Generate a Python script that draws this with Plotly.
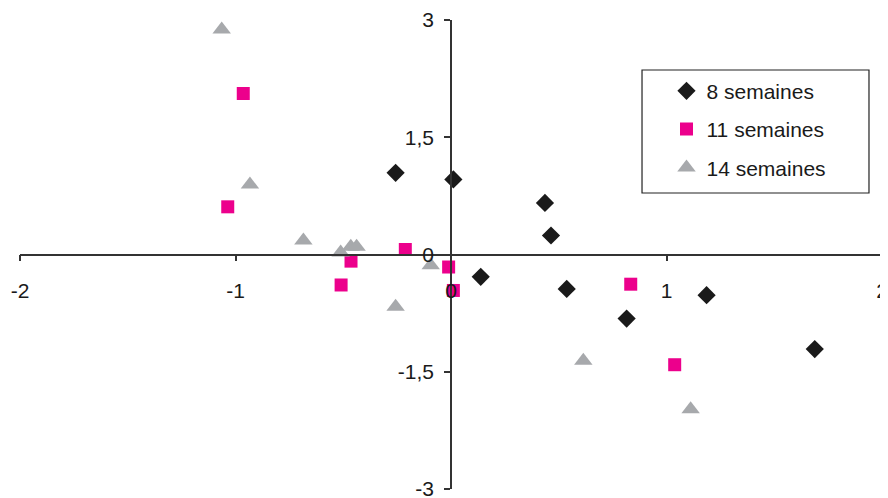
import plotly.graph_objects as go

# 8 semaines
x_8 = [-0.257, 0.011, 0.436, 0.464, 0.138, 0.537, 0.815, 1.186, 1.688]
y_8 = [1.045, 0.96, 0.66, 0.243, -0.285, -0.44, -0.82, -0.52, -1.21]

# 11 semaines
x_11 = [-0.964, -1.036, -0.212, -0.464, -0.51, -0.011, 0.011, 0.834, 1.038]
y_11 = [2.06, 0.61, 0.064, -0.085, -0.39, -0.16, -0.46, -0.38, -1.41]

# 14 semaines
x_14 = [-1.064, -0.933, -0.685, -0.512, -0.465, -0.438, -0.094, -0.257, 0.614, 1.112]
y_14 = [2.88, 0.895, 0.18, 0.026, 0.10, 0.10, -0.137, -0.67, -1.36, -1.98]

names = ["8 semaines", "11 semaines", "14 semaines"]

x_ticks = [-2, -1, 0, 1, 2]
x_labels = ["-2", "-1", "0", "1", "2"]
y_ticks = [-3, -1.5, 0, 1.5, 3]
y_labels = ["-3", "-1,5", "0", "1,5", "3"]

font = "Liberation Sans, Arial, sans-serif"
axis_col = "#333333"

fig = go.Figure()
fig.add_trace(go.Scatter(x=x_8, y=y_8, mode="markers", name=names[0], legendgroup="a",
                         marker=dict(symbol="diamond", size=14, color="#1a1a1a")))
fig.add_trace(go.Scatter(x=x_11, y=y_11, mode="markers", name=names[1], legendgroup="b",
                         marker=dict(symbol="square", size=13, color="#ec008c")))
fig.add_trace(go.Scatter(x=x_14, y=y_14, mode="markers", name=names[2], legendgroup="c",
                         marker=dict(symbol="triangle-up", size=16, color="#a7a9ac")))

# legend frame
fig.add_shape(type="rect", xref="paper", yref="paper",
              x0=0.7216, x1=0.9849, y0=0.6311, y1=0.8934,
              line=dict(color="#222222", width=1.2), fillcolor="rgba(0,0,0,0)")

# the page puts the figure 8px in from the top-left corner
fig.update_layout(
    width=880, height=490,
    margin=dict(l=12, r=6, t=12, b=9),
    paper_bgcolor="white", plot_bgcolor="white",
    font=dict(family=font, size=21, color="#1a1a1a"),
    showlegend=True,
    legend=dict(x=0.750, y=0.892, xanchor="left", yanchor="top",
                bgcolor="rgba(0,0,0,0)", borderwidth=0,
                traceorder="grouped", tracegroupgap=8,
                font=dict(family=font, size=21, color="#1a1a1a")),
)
fig.update_xaxes(range=[-2, 2], tickvals=x_ticks, ticktext=x_labels,
                 anchor="free", position=0.5,
                 showline=True, linecolor=axis_col, linewidth=1.5,
                 ticks="outside", ticklen=6, tickcolor=axis_col, tickwidth=1.5,
                 showgrid=False, zeroline=False, automargin=False,
                 ticklabelstandoff=12, ticklabeloverflow="allow")
fig.update_yaxes(range=[-3, 3], tickvals=y_ticks, ticktext=y_labels,
                 anchor="free", position=0.5,
                 showline=True, linecolor=axis_col, linewidth=1.5,
                 ticks="outside", ticklen=6, tickcolor=axis_col, tickwidth=1.5,
                 showgrid=False, zeroline=False, automargin=False,
                 ticklabelstandoff=6, ticklabeloverflow="allow")

fig.write_html("out.html")
